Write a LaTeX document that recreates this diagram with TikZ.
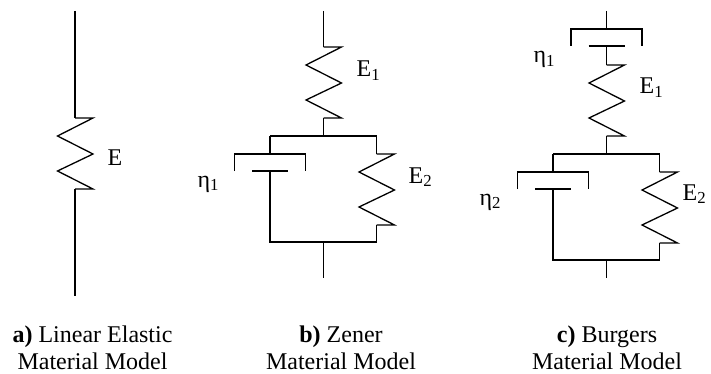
\documentclass[tikz,border=0pt]{standalone}
\usepackage{fontspec}
\setmainfont{Liberation Serif}
\usetikzlibrary{positioning}

\begin{document}
\begin{tikzpicture}[
  x=1pt,y=-1pt,
  line width=1.3pt,
  lbl/.style={anchor=base west,inner sep=0,font=\fontsize{24}{27}\selectfont},
  caption/.style={align=center,inner sep=0,font=\fontsize{24}{27}\selectfont},
  spring/.pic={
    \draw (0,0) coordinate (-top) -- (18,0) -- (-17.5,18) -- (18,36) -- (-17.5,53) -- (18,71) -- (0,71) coordinate (-bot);
  },
  damper/.pic={
    \coordinate (-top) at (0,0);
    \coordinate (-rod) at (0,17);
    \draw (-35.5,17) -- (-35.5,0) -- (35.5,0) -- (35.5,17);
    \draw (-18,17) -- (18,17);
  },
]
  \useasboundingbox (0,0) rectangle (711,374);
  % a) spring alone
  \coordinate (a-in) at (75,11);
  \coordinate (a-out) at (75,296);
  \pic (a-s) at (75,118) {spring};
  \draw (a-in) -- (a-s-top);
  \draw (a-s-bot) -- (a-out);
  \node[lbl] (a-E) at (107,165) {E};
  % parallel block of b) and c)
  \foreach \m/\sx/\sy in {b/323.5/136,c/606.5/154} {
    \begin{scope}[shift={(\sx,\sy)}]
      \coordinate (\m-j) at (0,0);
      \coordinate (\m-jl) at (-53.5,0);
      \coordinate (\m-jr) at (53,0);
      \coordinate (\m-k) at (0,106);
      \coordinate (\m-kl) at (-53.5,106);
      \coordinate (\m-kr) at (53,106);
      \pic (\m-d) at (-53.5,18) {damper};
      \pic (\m-s) at (53,18) {spring};
    \end{scope}
    \draw (\m-jl) -- (\m-jr);
    \draw (\m-jl) -- (\m-d-top);
    \draw (\m-jr) -- (\m-s-top);
    \draw (\m-d-rod) -- (\m-kl) -- (\m-kr) -- (\m-s-bot);
    \coordinate (\m-end) at (\sx,278);
    \draw (\m-k) -- (\m-end);
  }
  % b) top spring
  \coordinate (b-in) at (323.5,11);
  \pic (b-t) at (323.5,47) {spring};
  \draw (b-in) -- (b-t-top);
  \draw (b-t-bot) -- (b-j);
  \node[lbl] (b-E1) at (356,77) {E\textsubscript{1}};
  \node[lbl] (b-E2) at (408,183) {E\textsubscript{2}};
  \node[lbl] (b-eta) at (197,187) {η\textsubscript{1}};
  % c) damper and spring on top
  \coordinate (c-in) at (606.5,11);
  \pic (c-u) at (606.5,29) {damper};
  \pic (c-t) at (606.5,65) {spring};
  \draw (c-in) -- (c-u-top);
  \draw (c-u-rod) -- (c-t-top);
  \draw (c-t-bot) -- (c-j);
  \node[lbl] (c-E1) at (639,94) {E\textsubscript{1}};
  \node[lbl] (c-E2) at (682,200) {E\textsubscript{2}};
  \node[lbl] (c-eta1) at (533,63) {η\textsubscript{1}};
  \node[lbl] (c-eta2) at (479,205) {η\textsubscript{2}};
  % captions
  \node[caption] (a-cap) at (92.5,347.5) {\textbf{a)} Linear Elastic\\Material Model};
  \node[caption] (b-cap) at (341,347.5) {\textbf{b)} Zener\\Material Model};
  \node[caption] (c-cap) at (607,347.5) {\textbf{c)} Burgers\\Material Model};
\end{tikzpicture}
\end{document}
